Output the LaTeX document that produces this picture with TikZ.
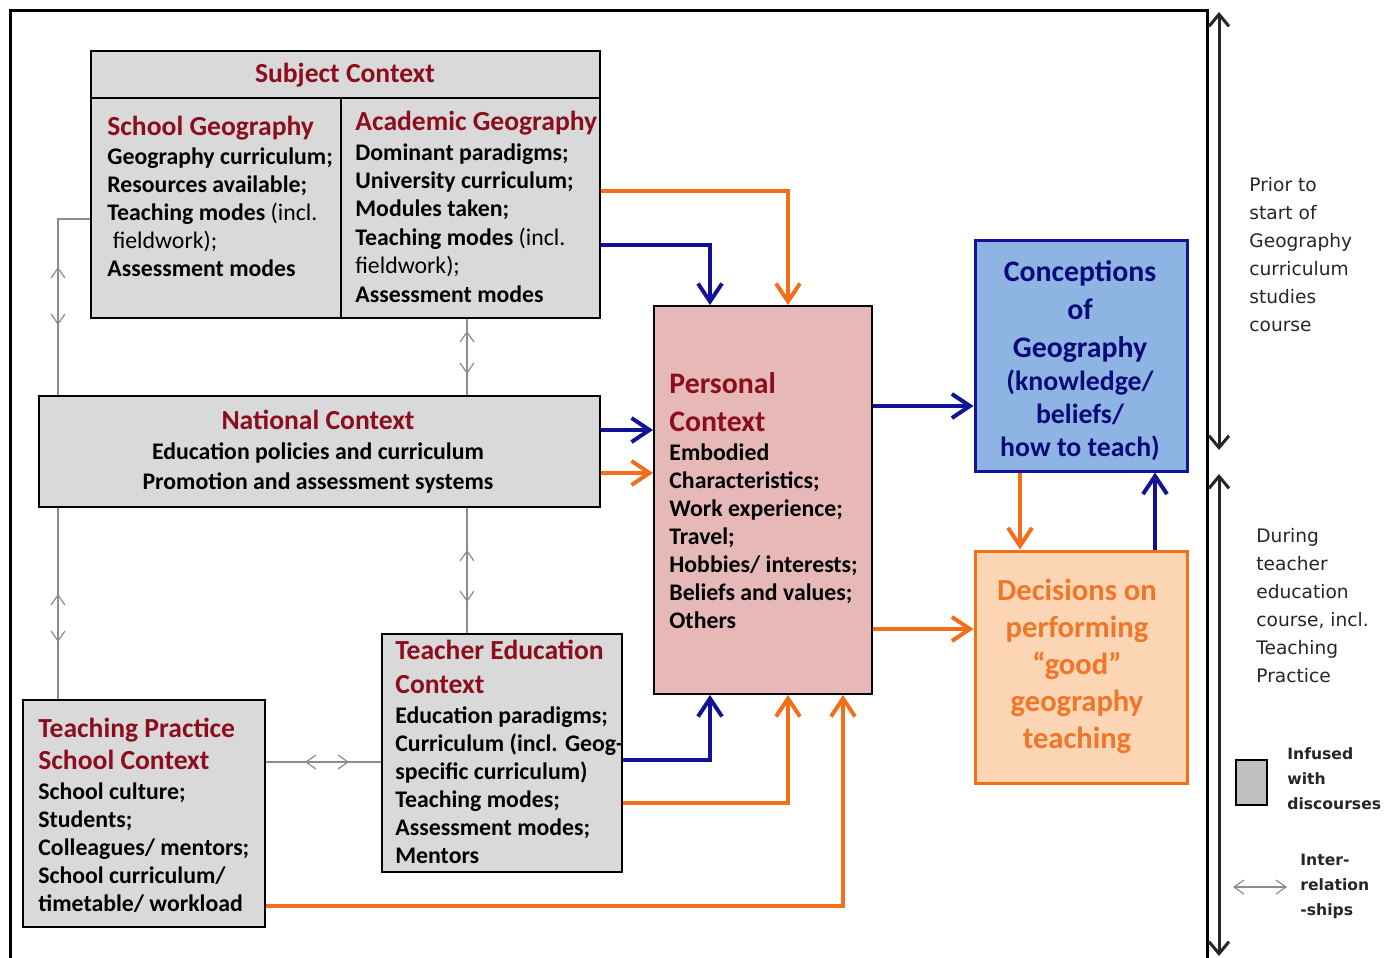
\documentclass[tikz,border=0pt]{standalone}
\usepackage{fontspec}
\setmainfont{Carlito}
\newfontfamily\verd{DejaVu Sans}
\usetikzlibrary{arrows.meta,fit}
\definecolor{dred}{RGB}{140,14,28}
\definecolor{boxgray}{RGB}{217,217,217}
\definecolor{pinkfill}{RGB}{230,185,184}
\definecolor{bluefill}{RGB}{141,180,226}
\definecolor{navy}{RGB}{18,18,150}
\definecolor{navytext}{RGB}{10,10,120}
\definecolor{orng}{RGB}{242,110,25}
\definecolor{peach}{RGB}{252,213,181}
\definecolor{ortext}{RGB}{240,118,40}
\definecolor{gline}{RGB}{140,140,140}
\tikzset{
  gbox/.style={draw=black, line width=0.9pt, fill=boxgray, inner sep=0pt},
  pbox/.style={draw=black, line width=0.9pt, fill=pinkfill, inner sep=0pt},
  cbox/.style={draw=navy, line width=1.5pt, fill=bluefill, inner sep=0pt},
  dbox/.style={draw=orng, line width=1.5pt, fill=peach, inner sep=0pt},
  lbox/.style={draw=black, line width=1.3pt, fill=black!25, inner sep=0pt},
  ttl/.style={text=dred, font=\bfseries\fontsize{13.8}{17}\selectfont, inner sep=0pt},
  itm/.style={text=black, font=\bfseries\fontsize{11.9}{14}\selectfont, inner sep=0pt, align=left},
  barrow/.style={draw=navy, line width=2pt, -{Straight Barb[length=9pt,width=12pt]}},
  oarrow/.style={draw=orng, line width=2pt, -{Straight Barb[length=9pt,width=12pt]}},
  grayline/.style={draw=gline, line width=0.6pt},
  grayarr/.style={draw=gline, line width=0.6pt, {Straight Barb[length=5pt,width=7pt]}-{Straight Barb[length=5pt,width=7pt]}},
  blackarr/.style={draw=black!85, line width=1.5pt, {Straight Barb[length=6pt,width=10pt]}-{Straight Barb[length=6pt,width=10pt]}},
  side/.style={font=\verd\fontsize{9.3}{14}\selectfont, inner sep=0pt, align=left, text=black!85},
  sideb/.style={font=\verd\bfseries\fontsize{7.8}{12.5}\selectfont, inner sep=0pt, align=left, text=black!85},
}
\begin{document}
\begin{tikzpicture}[x=0.5pt,y=-0.5pt]
\useasboundingbox (0,0) rectangle (1387,958);
\fill[white] (0,0) rectangle (1387,958);
% outer frame
\draw[line width=1.5pt] (10,958) -- (10,10) -- (1207,10) -- (1207,958);

% boxes
\node[gbox, fit={(91,51) (600,318)}] (subj) {};
\draw[line width=0.9pt] (subj.west |- 0,98) -- (subj.east |- 0,98);
\draw[line width=0.9pt] (341,98) -- (341,0 |- subj.south);
\node[gbox, fit={(39,396) (600,507)}] (nat) {};
\node[gbox, fit={(382,634) (622,872)}] (te) {};
\node[gbox, fit={(23,700) (265,927)}] (tp) {};
\node[pbox, fit={(654,306) (872,694)}] (pers) {};
\node[cbox, fit={(975,240) (1187,471)}] (conc) {};
\node[dbox, fit={(975,551) (1187,783)}] (dec) {};

% Subject context text (anchor base = baseline of last line)
\node[ttl, anchor=base] (subjt) at (345,82) {Subject Context};
\node[ttl, anchor=base west] (sgt) at (107,135) {School Geography};
\node[itm, anchor=base west] (sgi) at (107,276) {Geography curriculum;\\Resources available;\\Teaching modes {\mdseries(incl.}\\{\mdseries\ fieldwork);}\\Assessment modes};
\node[ttl, anchor=base west] (agt) at (355,130) {Academic Geography};
\node[itm, anchor=base west, font=\bfseries\fontsize{11.9}{14.2}\selectfont] (agi) at (355,302) {Dominant paradigms;\\University curriculum;\\Modules taken;\\Teaching modes {\mdseries(incl.}\\{\mdseries fieldwork);}\\Assessment modes};

% National
\node[ttl, anchor=base] (natt) at (318,429) {National Context};
\node[itm, anchor=base, align=center, font=\bfseries\fontsize{11.9}{15}\selectfont] (nati) at (318,489) {Education policies and curriculum\\Promotion and assessment systems};

% Teacher education
\node[ttl, anchor=base west, align=left] (tet) at (395,693) {Teacher Education\\Context};
\node[itm, anchor=base west] (tei) at (395,863) {Education paradigms;\\Curriculum (incl. Geog-\\specific curriculum)\\Teaching modes;\\Assessment modes;\\Mentors};

% Teaching practice
\node[ttl, anchor=base west, align=left, font=\bfseries\fontsize{13.8}{16}\selectfont] (tpt) at (38,769) {Teaching Practice\\School Context};
\node[itm, anchor=base west] (tpi) at (38,911) {School culture;\\Students;\\Colleagues/ mentors;\\School curriculum/\\timetable/ workload};

% Personal
\node[ttl, anchor=base west, align=left, font=\bfseries\fontsize{14.9}{19}\selectfont] (perst) at (669,431) {Personal\\Context};
\node[itm, anchor=base west] (persi) at (669,628) {Embodied\\Characteristics;\\Work experience;\\Travel;\\Hobbies/ interests;\\Beliefs and values;\\Others};

% Conceptions
\node[inner sep=0pt, anchor=base, align=center, text=navytext, font=\bfseries\fontsize{14.9}{19}\selectfont] (conct) at (1080,357) {Conceptions\\of\\Geography};
\node[inner sep=0pt, anchor=base, align=center, text=navytext, font=\bfseries\fontsize{13.9}{16.5}\selectfont] (conci) at (1080,456) {(knowledge/\\beliefs/\\how to teach)};

% Decisions
\node[inner sep=0pt, anchor=base, align=center, text=ortext, font=\bfseries\fontsize{15.3}{18.5}\selectfont] (dect) at (1077,748) {Decisions on\\performing\\“good”\\geography\\teaching};

% main arrows
\draw[oarrow] (subj.east |- 0,191) -| (788,0 |- pers.north);
\draw[barrow] (subj.east |- 0,245) -| (710,0 |- pers.north);
\draw[barrow] (nat.east |- 0,430) -- (pers.west |- 0,430);
\draw[oarrow] (nat.east |- 0,473) -- (pers.west |- 0,473);
\draw[barrow] (pers.east |- 0,406) -- (conc.west |- 0,406);
\draw[oarrow] (pers.east |- 0,629) -- (dec.west |- 0,629);
\draw[oarrow] (1020,0 |- conc.south) -- (1020,0 |- dec.north);
\draw[barrow] (1155,0 |- dec.north) -- (1155,0 |- conc.south);
\draw[barrow] (te.east |- 0,760) -| (710,0 |- pers.south);
\draw[oarrow] (te.east |- 0,803) -| (788,0 |- pers.south);
\draw[oarrow] (tp.east |- 0,906) -| (843,0 |- pers.south);

% interrelationships
\draw[grayline] (subj.west |- 0,219) -| (58,0 |- nat.north);
\draw[grayarr] (58,267) -- (58,325);
\draw[grayline] (467,0 |- subj.south) -- (467,0 |- nat.north);
\draw[grayarr] (467,331) -- (467,374);
\draw[grayline] (58,0 |- nat.south) -- (58,0 |- tp.north);
\draw[grayarr] (58,594) -- (58,642);
\draw[grayline] (467,0 |- nat.south) -- (467,0 |- te.north);
\draw[grayarr] (467,550) -- (467,602);
\draw[grayline] (tp.east |- 0,762) -- (te.west |- 0,762);
\draw[grayarr] (305,762) -- (349,762);

% legend
\draw[blackarr] (1219,12) -- (1219,450);
\draw[blackarr] (1219,474) -- (1219,956);
\node[side, anchor=base west] (prior) at (1249,331) {Prior to\\start of\\Geography\\curriculum\\studies\\course};
\node[side, anchor=base west] (during) at (1256,682) {During\\teacher\\education\\course, incl.\\Teaching\\Practice};
\node[lbox, fit={(1236,760) (1267,805)}] (legbox) {};
\node[sideb, anchor=base west] (infused) at (1287,809) {Infused\\with\\discourses};
\coordinate (lga) at (1233,887);
\coordinate (lgb) at (1287,887);
\draw[grayarr] (lga) -- (lgb);
\node[sideb, anchor=base west] (inter) at (1300,915) {Inter-\\relation\\-ships};
\end{tikzpicture}
\end{document}
